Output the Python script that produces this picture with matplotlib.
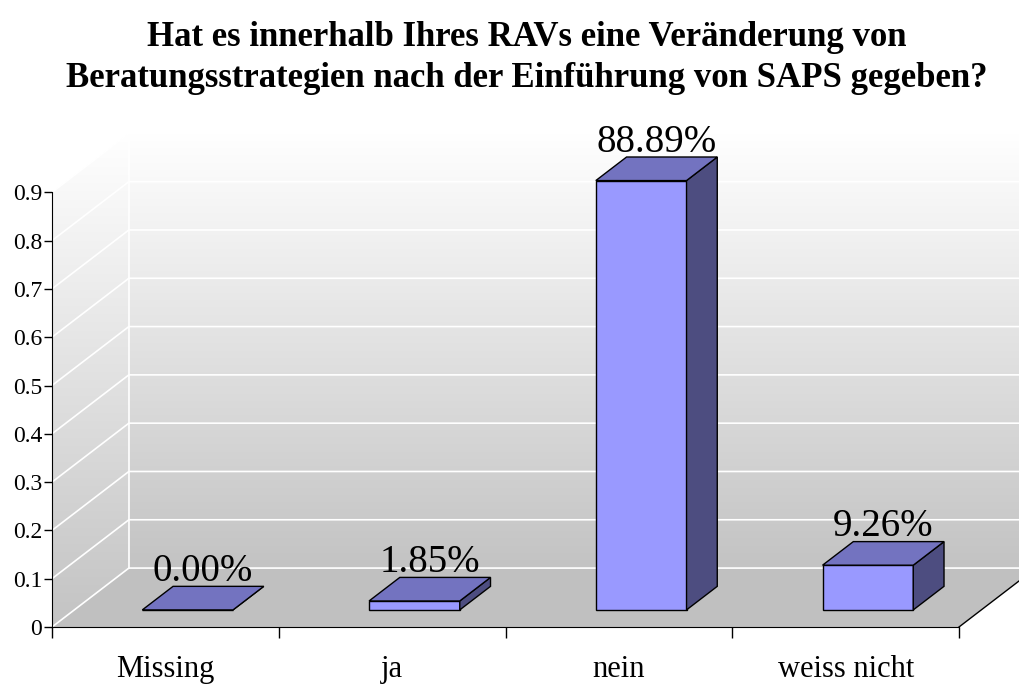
import numpy as np
import matplotlib.pyplot as plt
from matplotlib.patches import Polygon

# data
categories = ['Missing', 'ja', 'nein', 'weiss nicht']
values = [0.0, 0.0185, 0.8889, 0.0926]
labels = ['0.00%', '1.85%', '88.89%', '9.26%']
yticks = [0, 0.1, 0.2, 0.3, 0.4, 0.5, 0.6, 0.7, 0.8, 0.9]
title = ('Hat es innerhalb Ihres RAVs eine Veränderung von\n'
         'Beratungsstrategien nach der Einführung von SAPS gegeben?')

plt.rcParams['font.family'] = ['Liberation Serif', 'DejaVu Serif']

# depth of the 3d box in data units
DX = 0.339
DY = 0.122
TOP = 0.9
d0, d1 = 0.29, 0.69      # bar front / back depth
bw0, bw1 = 0.30, 0.70    # bar extent within a category

front_col = '#9999ff'
top_col = '#7373c0'
side_col = '#4d4d80'

fig = plt.figure(figsize=(10.19, 6.88), dpi=100, facecolor='white')
ax = fig.add_axes([52 / 1019, 61 / 688, 967 / 1019, 507 / 688])
ax.set_xlim(0, 967 / 226.75)
ax.set_ylim(0, 507 / 483)
ax.patch.set_visible(False)

n = len(categories)


def p(x, y, d):
    return (x + DX * d, y + DY * d)


# floor
floor = Polygon([p(0, 0, 0), p(n, 0, 0), p(n, 0, 1), p(0, 0, 1)],
                closed=True, facecolor='#c0c0c0', edgecolor='none', zorder=1)
ax.add_patch(floor)
ax.plot([n, n + DX], [0, DY], color='black', lw=1, zorder=2)

# walls with gradient
grad = np.linspace(195, 255, 256)[:, None] / 255.0
grad = np.dstack([grad, grad, grad])
back = Polygon([p(0, 0, 1), p(n, 0, 1), p(n, TOP, 1), p(0, TOP, 1)],
               closed=True, facecolor='none', edgecolor='none')
side = Polygon([p(0, 0, 0), p(0, 0, 1), p(0, TOP, 1), p(0, TOP, 0)],
               closed=True, facecolor='none', edgecolor='none')
ax.add_patch(back)
ax.add_patch(side)
im1 = ax.imshow(grad, extent=[DX, n + DX, DY, TOP + DY], origin='lower',
                aspect='auto', zorder=1)
im1.set_clip_path(back)
im2 = ax.imshow(grad, extent=[0, DX, 0, TOP + DY], origin='lower',
                aspect='auto', zorder=1)
im2.set_clip_path(side)

# gridlines
for v in yticks:
    ax.plot([0, DX, n + DX], [v, v + DY, v + DY], color='white', lw=1.2, zorder=2)
ax.plot([DX, DX], [DY, TOP + DY], color='white', lw=1.2, zorder=2)

# bars
for i, v in enumerate(values):
    xa, xb = i + bw0, i + bw1
    fr = [p(xa, 0, d0), p(xb, 0, d0), p(xb, v, d0), p(xa, v, d0)]
    tp = [p(xa, v, d0), p(xb, v, d0), p(xb, v, d1), p(xa, v, d1)]
    sd = [p(xb, 0, d0), p(xb, 0, d1), p(xb, v, d1), p(xb, v, d0)]
    for pts, c in [(fr, front_col), (sd, side_col), (tp, top_col)]:
        ax.add_patch(Polygon(pts, closed=True, facecolor=c, edgecolor='black',
                             lw=1.0, zorder=3, joinstyle='miter'))
    cx = i + 0.5 + DX * (d0 + d1) / 2
    ax.text(cx, v + DY * d1 - 0.008, labels[i], ha='center', va='bottom',
            fontsize=28, zorder=4)

# axes
for s in ['top', 'right']:
    ax.spines[s].set_visible(False)
ax.spines['left'].set_bounds(0, TOP)
ax.spines['bottom'].set_bounds(0, n)
ax.spines['left'].set_zorder(5)
ax.spines['bottom'].set_zorder(5)
ax.set_yticks(yticks)
ax.set_yticklabels(['0' if v == 0 else f'{v:.1f}' for v in yticks], fontsize=17)
ax.tick_params(axis='y', direction='out', length=6, width=1, pad=1)
ax.set_xticks(range(n + 1))
ax.set_xticklabels([])
ax.tick_params(axis='x', which='major', direction='out', length=8, width=1)
ax.set_xticks([i + 0.5 for i in range(n)], minor=True)
ax.set_xticklabels(categories, minor=True, fontsize=22)
ax.tick_params(axis='x', which='minor', length=0, pad=20)

fig.text(0.517, 0.969, title, ha='center', va='top', fontsize=25,
         fontweight='bold', linespacing=1.3)

fig.savefig('out.png', dpi=100, facecolor='white')
